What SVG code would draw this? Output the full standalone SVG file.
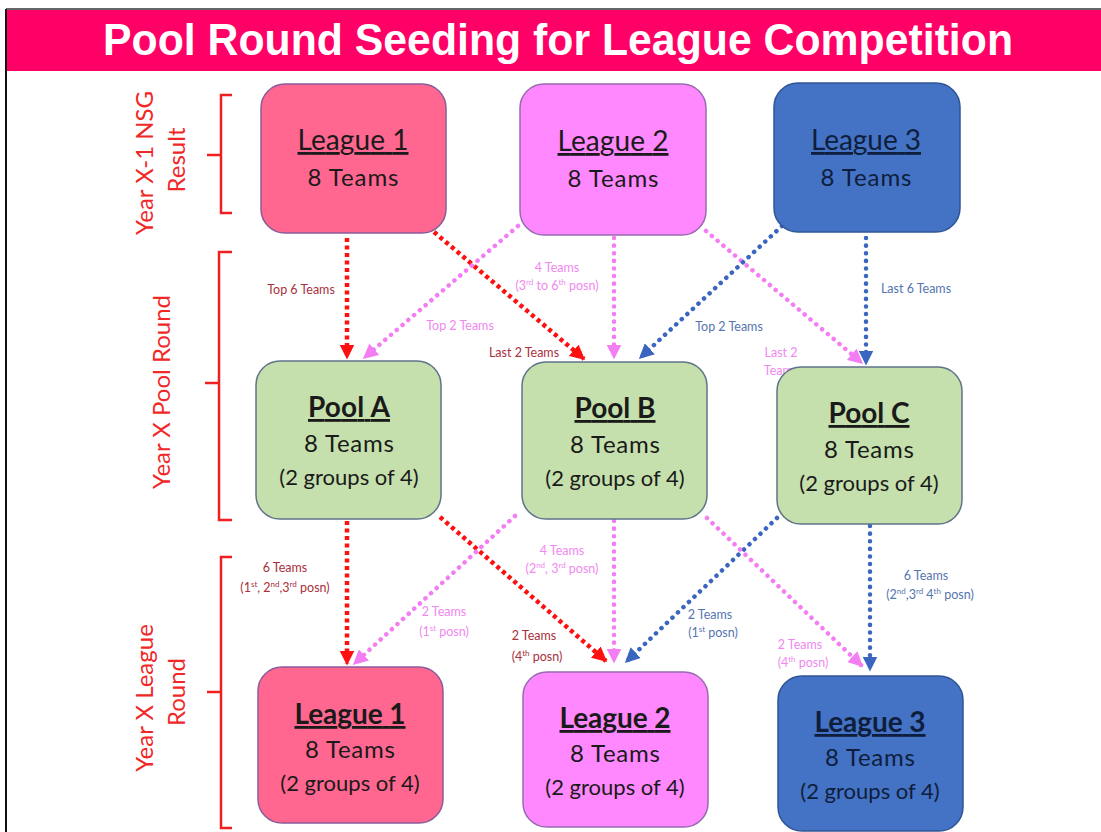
<svg xmlns="http://www.w3.org/2000/svg" width="1101" height="832" viewBox="0 0 1101 832">
<defs>
<style>
.box{stroke-width:1.5}
.l1{fill:#FF6690;stroke:#8A5C9A}
.l2{fill:#FF88FF;stroke:#9A6AB0}
.l3{fill:#4472C4;stroke:#2F5597}
.pool{fill:#C5E0AC;stroke:#5F7389}
.t{font-family:Lato,"Open Sans",sans-serif;text-anchor:middle;fill:#1a1a1a}
.h{font-size:28px;text-decoration:underline}
.hb{font-size:28px;font-weight:bold;text-decoration:underline}
.s{font-size:24px}
.g{font-size:22px}
.side{font-family:Lato,"Open Sans",sans-serif;font-size:24px;fill:#F02828;text-anchor:middle}
.br{fill:none;stroke:#F02020;stroke-width:2.5}
.lab{font-family:Lato,"Open Sans",sans-serif;font-size:12.5px;text-anchor:middle}
.lr{fill:#A8303C}
.lp{fill:#F088F0}
.lb{fill:#5575B0}
.dk{fill:#0E1E3C}
.cr{fill:none;stroke:#FF1010;stroke-width:4.5;stroke-dasharray:4 3.5}
.cp{fill:none;stroke:#F37EF3;stroke-width:4.5;stroke-dasharray:0.1 7.5;stroke-linecap:round}
.cb{fill:none;stroke:#3A66C0;stroke-width:4.5;stroke-dasharray:0.1 7.5;stroke-linecap:round}
</style>
<marker id="ar" viewBox="0 0 10 10" refX="9" refY="5" markerUnits="userSpaceOnUse" markerWidth="15" markerHeight="15" orient="auto"><path d="M0,0 L10,5 L0,10 z" fill="#FF1010"/></marker>
<marker id="ap" viewBox="0 0 10 10" refX="9" refY="5" markerUnits="userSpaceOnUse" markerWidth="15" markerHeight="15" orient="auto"><path d="M0,0 L10,5 L0,10 z" fill="#F37EF3"/></marker>
<marker id="ab" viewBox="0 0 10 10" refX="9" refY="5" markerUnits="userSpaceOnUse" markerWidth="15" markerHeight="15" orient="auto"><path d="M0,0 L10,5 L0,10 z" fill="#3A66C0"/></marker>
</defs>
<rect x="0" y="0" width="1101" height="832" fill="#ffffff"/>
<g id="frame">
<line x1="6" y1="9" x2="6" y2="832" stroke="#111" stroke-width="2"/>
<line x1="6" y1="9" x2="1101" y2="9" stroke="#333" stroke-width="1.5"/>
<rect x="7" y="10" width="1094" height="61" fill="#FF0066"/>
<text x="558" y="55" font-family="'Liberation Sans',Arial,sans-serif" font-size="44" font-weight="bold" fill="#ffffff" text-anchor="middle" textLength="910" lengthAdjust="spacingAndGlyphs">Pool Round Seeding for League Competition</text>
</g>
<g id="side-labels">
<text class="side" transform="translate(153,163) rotate(-90)">Year X-1 NSG</text>
<text class="side" transform="translate(185,160) rotate(-90)">Result</text>
<path class="br" d="M232,95 H221 V213 H232 M221,155 H207"/>
<text class="side" transform="translate(170,392) rotate(-90)">Year X Pool Round</text>
<path class="br" d="M232,252 H219 V520 H232 M219,383 H205"/>
<text class="side" transform="translate(153,698) rotate(-90)">Year X  League</text>
<text class="side" transform="translate(185,692) rotate(-90)">Round</text>
<path class="br" d="M232,557 H221 V828 H232 M221,692 H207"/>
</g>
<g id="labels">
<text class="lab lr" x="301" y="294">Top 6 Teams</text>
<text class="lab lr" x="524" y="357">Last 2 Teams</text>
<text class="lab lp" x="460" y="330">Top 2 Teams</text>
<text class="lab lp" x="557" y="272">4 Teams</text>
<text class="lab lp" x="557" y="290">(3<tspan font-size="8" baseline-shift="super">rd</tspan> to 6<tspan font-size="8" baseline-shift="super">th</tspan> posn)</text>
<text class="lab lp" x="781" y="357">Last 2</text>
<text class="lab lp" x="781" y="375">Teams</text>
<text class="lab lb" x="729" y="331">Top 2 Teams</text>
<text class="lab lb" x="916" y="293">Last 6 Teams</text>
<text class="lab lr" x="285" y="572">6 Teams</text>
<text class="lab lr" x="285" y="592">(1<tspan font-size="8" baseline-shift="super">st</tspan>, 2<tspan font-size="8" baseline-shift="super">nd</tspan>,3<tspan font-size="8" baseline-shift="super">rd</tspan> posn)</text>
<text class="lab lr" x="534" y="640">2 Teams</text>
<text class="lab lr" x="537" y="661">(4<tspan font-size="8" baseline-shift="super">th</tspan> posn)</text>
<text class="lab lp" x="444" y="616">2 Teams</text>
<text class="lab lp" x="444" y="636">(1<tspan font-size="8" baseline-shift="super">st</tspan> posn)</text>
<text class="lab lp" x="562" y="555">4 Teams</text>
<text class="lab lp" x="562" y="573">(2<tspan font-size="8" baseline-shift="super">nd</tspan>, 3<tspan font-size="8" baseline-shift="super">rd</tspan> posn)</text>
<text class="lab lb" x="710" y="619">2 Teams</text>
<text class="lab lb" x="713" y="637">(1<tspan font-size="8" baseline-shift="super">st</tspan> posn)</text>
<text class="lab lp" x="800" y="649">2 Teams</text>
<text class="lab lp" x="803" y="667">(4<tspan font-size="8" baseline-shift="super">th</tspan> posn)</text>
<text class="lab lb" x="926" y="580">6 Teams</text>
<text class="lab lb" x="930" y="599">(2<tspan font-size="8" baseline-shift="super">nd</tspan>,3<tspan font-size="8" baseline-shift="super">rd</tspan> 4<tspan font-size="8" baseline-shift="super">th</tspan> posn)</text>
</g>
<g id="connectors">
<line class="cr" x1="347" y1="238" x2="347" y2="358" marker-end="url(#ar)"/>
<line class="cr" x1="434" y1="232" x2="584" y2="359" marker-end="url(#ar)"/>
<line class="cp" x1="518" y1="226" x2="364" y2="358" marker-end="url(#ap)"/>
<line class="cp" x1="614" y1="238" x2="614" y2="358" marker-end="url(#ap)"/>
<line class="cp" x1="706" y1="231" x2="862" y2="363" marker-end="url(#ap)"/>
<line class="cb" x1="782" y1="226" x2="640" y2="358" marker-end="url(#ab)"/>
<line class="cb" x1="866" y1="238" x2="866" y2="364" marker-end="url(#ab)"/>
<line class="cr" x1="347" y1="521" x2="347" y2="664" marker-end="url(#ar)"/>
<line class="cr" x1="440" y1="517" x2="606" y2="661" marker-end="url(#ar)"/>
<line class="cp" x1="515" y1="516" x2="354" y2="664" marker-end="url(#ap)"/>
<line class="cp" x1="614" y1="521" x2="614" y2="662" marker-end="url(#ap)"/>
<line class="cb" x1="777" y1="518" x2="626" y2="662" marker-end="url(#ab)"/>
<line class="cp" x1="707" y1="518" x2="862" y2="666" marker-end="url(#ap)"/>
<line class="cb" x1="870" y1="526" x2="870" y2="670" marker-end="url(#ab)"/>
</g>
<g id="league1-top">
<rect class="box l1" x="261" y="84" width="185" height="149" rx="24"/>
<text class="t h" x="353" y="150" textLength="111">League 1</text>
<text class="t s" x="353" y="186" textLength="91">8 Teams</text>
</g>
<g id="league2-top">
<rect class="box l2" x="520" y="84" width="186" height="151" rx="24"/>
<text class="t h" x="613" y="151" textLength="111">League 2</text>
<text class="t s" x="613" y="187" textLength="91">8 Teams</text>
</g>
<g id="league3-top">
<rect class="box l3" x="774" y="83" width="186" height="149" rx="24"/>
<text class="t h dk" x="866" y="150" textLength="110">League 3</text>
<text class="t s dk" x="866" y="186" textLength="91">8 Teams</text>
</g>
<g id="pool-a">
<rect class="box pool" x="256" y="361" width="185" height="158" rx="24"/>
<text class="t hb" x="349" y="417" textLength="82">Pool A</text>
<text class="t s" x="349" y="452" textLength="90">8 Teams</text>
<text class="t g" x="349" y="485">(2 groups of 4)</text>
</g>
<g id="pool-b">
<rect class="box pool" x="522" y="362" width="185" height="157" rx="24"/>
<text class="t hb" x="615" y="418" textLength="81">Pool B</text>
<text class="t s" x="615" y="453" textLength="90">8 Teams</text>
<text class="t g" x="615" y="486">(2 groups of 4)</text>
</g>
<g id="pool-c">
<rect class="box pool" x="777" y="367" width="185" height="157" rx="24"/>
<text class="t hb" x="869" y="423" textLength="81">Pool C</text>
<text class="t s" x="869" y="458" textLength="90">8 Teams</text>
<text class="t g" x="869" y="491">(2 groups of 4)</text>
</g>
<g id="league1-bottom">
<rect class="box l1" x="258" y="667" width="185" height="156" rx="24"/>
<text class="t hb" x="350" y="724" textLength="111">League 1</text>
<text class="t s" x="350" y="758" textLength="90">8 Teams</text>
<text class="t g" x="350" y="791">(2 groups of 4)</text>
</g>
<g id="league2-bottom">
<rect class="box l2" x="523" y="672" width="185" height="155" rx="24"/>
<text class="t hb" x="615" y="728" textLength="111">League 2</text>
<text class="t s" x="615" y="762" textLength="90">8 Teams</text>
<text class="t g" x="615" y="795">(2 groups of 4)</text>
</g>
<g id="league3-bottom">
<rect class="box l3" x="778" y="676" width="185" height="155" rx="24"/>
<text class="t hb dk" x="870" y="732" textLength="111">League 3</text>
<text class="t s dk" x="870" y="766" textLength="90">8 Teams</text>
<text class="t g dk" x="870" y="799">(2 groups of 4)</text>
</g>
</svg>
